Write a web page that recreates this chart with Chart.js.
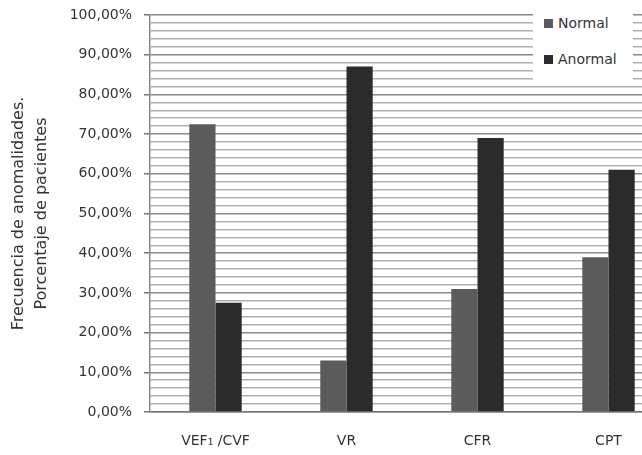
<!DOCTYPE html>
<html><head><meta charset="utf-8">
<script src="https://cdn.jsdelivr.net/npm/chart.js@4"></script>
<style>
html,body{margin:0;padding:0;overflow:hidden;background:#fff;width:642px;height:455px;}
#wrap{position:relative;width:690px;height:455px;overflow:hidden;}
#c{position:absolute;left:0;top:0;}
#legend{position:absolute;left:533px;top:0px;width:100px;height:82px;background:#fff;font-family:"DejaVu Sans",sans-serif;font-size:14px;color:#333;}
.li{position:absolute;left:11px;display:flex;align-items:center;}
.sw{width:9px;height:9px;margin-right:5px;}
</style></head><body>
<div id="wrap"><canvas id="c" width="690" height="455"></canvas>
<div id="legend"></div></div>
<script>
const categories = ["VEF\u2081 /CVF", "VR", "CFR", "CPT"];
const seriesNames = ["Normal", "Anormal"];
const normalValues = [72.5, 13, 31, 39];
const anormalValues = [27.5, 87, 69, 61];
const colors = ["#5b5b5b", "#2b2b2b"];
const yTitle = ["Frecuencia de anomalidades.", "Porcentaje de pacientes"];

const leg = document.getElementById('legend');
seriesNames.forEach((n,i)=>{
  const d=document.createElement('div'); d.className='li'; d.style.top=(i===0?15:51)+'px';
  d.innerHTML='<span class="sw" style="background:'+colors[i]+'"></span><span>'+n+'</span>';
  leg.appendChild(d);
});

new Chart(document.getElementById('c'), {
  type:'bar',
  data:{labels:categories, datasets:[
    {label:seriesNames[0], data:normalValues, backgroundColor:colors[0], borderWidth:0},
    {label:seriesNames[1], data:anormalValues, backgroundColor:colors[1], borderWidth:0}
  ]},
  options:{
    responsive:false, animation:false,
    categoryPercentage:0.4, barPercentage:1,
    layout:{padding:{top:15,right:16,left:0,bottom:0}},
    plugins:{legend:{display:false}, tooltip:{enabled:false}},
    scales:{
      x:{
        grid:{display:false, drawTicks:false},
        border:{display:true,color:'#777',width:1.5},
        ticks:{padding:21,color:'#333',font:{family:'DejaVu Sans',size:14}},
        afterFit:(s)=>{s.height=43; s.paddingLeft=0; s.paddingRight=0;}
      },
      y:{
        min:0,max:100,
        border:{display:true,color:'#888',width:1.5},
        grid:{
          color:(ctx)=> (ctx.tick && ctx.tick.value%10===0) ? '#8a8a8a' : '#b0b0b0',
          lineWidth:1.5,
          tickColor:(ctx)=> (ctx.tick && ctx.tick.value%10===0) ? '#777' : 'rgba(0,0,0,0)',
          tickLength:6
        },
        ticks:{stepSize:2, autoSkip:false, padding:12, color:'#333',
          font:{family:'DejaVu Sans',size:14},
          callback:(v)=> v%10===0 ? v.toFixed(2).replace('.',',')+'%' : ''},
        title:{display:true,text:yTitle,color:'#333',font:{family:'DejaVu Sans',size:16,lineHeight:1.4},padding:{top:8,bottom:0}},
        afterFit:(s)=>{s.width=150; s.paddingTop=0; s.paddingBottom=0;}
      }
    }
  }
});
</script></body></html>
